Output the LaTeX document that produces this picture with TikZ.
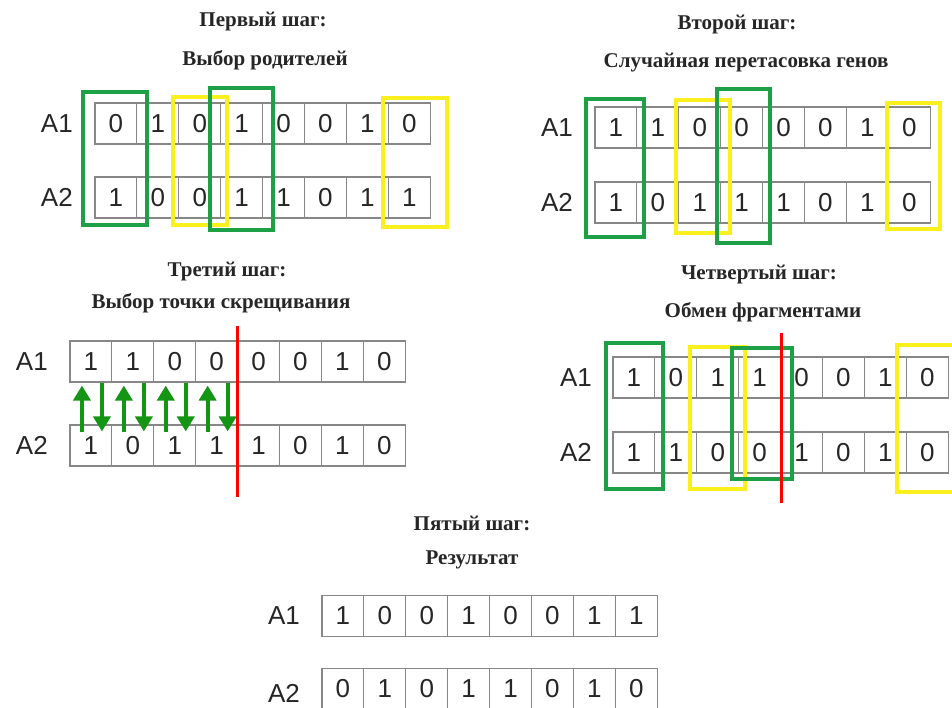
\documentclass[tikz,border=0pt]{standalone}
\usepackage{fontspec}
\setmainfont{Liberation Serif}
\newfontfamily\arialf{Liberation Sans}
\usetikzlibrary{arrows.meta}
\definecolor{gbox}{RGB}{30,160,70}
\definecolor{ybox}{RGB}{250,240,30}
\definecolor{garrow}{RGB}{20,150,20}
\definecolor{cellgray}{RGB}{135,135,135}
\newcommand\bitrow[4]{%
  \foreach \b [count=\i] in {#4}
    \node[cell] (#1-\i) at ({#2+(\i-0.5)*41.9},#3) {\b};}
\tikzset{
  cell/.style={draw=cellgray, line width=1.1pt, minimum width=41.9pt, minimum height=41pt, inner sep=0pt, text=black!85, font=\arialf\fontsize{26}{26}\selectfont},
  lbl/.style={anchor=east, inner sep=0pt, text=black!85, font=\arialf\fontsize{26}{26}\selectfont},
  title/.style={inner sep=0pt, text=black!85, font=\bfseries\fontsize{21}{21}\selectfont},
  gsel/.style={draw=gbox, line width=4.5pt},
  ysel/.style={draw=ybox, line width=4.5pt},
  cut/.style={draw=red, line width=3pt},
  garr/.style={draw=garrow, line width=3.8pt, -{Triangle[width=17pt,length=15pt]}}
}
\begin{document}
\begin{tikzpicture}[x=1pt,y=-1pt]
\useasboundingbox[fill=white] (0,0) rectangle (952,707);

% ---------- Panel 1 ----------
\node[title] (t1a) at (263,22) {Первый шаг:};
\node[title] (t1b) at (265,60) {Выбор родителей};
\bitrow{p1a}{95}{123.5}{0,1,0,1,0,0,1,0}
\bitrow{p1b}{95}{197.5}{1,0,0,1,1,0,1,1}
\node[lbl] (p1la) at (73,123.5) {A1};
\node[lbl] (p1lb) at (73,197.5) {A2};
\draw[ysel] (173,97) rectangle (227,225);
\draw[ysel] (383,98) rectangle (447,227);
\draw[gsel] (83,92) rectangle (147,225);
\draw[gsel] (210,88) rectangle (273,230);

% ---------- Panel 2 ----------
\node[title] (t2a) at (737,25) {Второй шаг:};
\node[title] (t2b) at (746,63) {Случайная перетасовка генов};
\bitrow{p2a}{595}{127.5}{1,1,0,0,0,0,1,0}
\bitrow{p2b}{595}{202.5}{1,0,1,1,1,0,1,0}
\node[lbl] (p2la) at (573,127.5) {A1};
\node[lbl] (p2lb) at (573,202.5) {A2};
\draw[ysel] (676,100) rectangle (730,233);
\draw[ysel] (887,103) rectangle (940,229);
\draw[gsel] (586,99) rectangle (644,237);
\draw[gsel] (717,89) rectangle (770,243);

% ---------- Panel 3 ----------
\node[title] (t3a) at (227,272) {Третий шаг:};
\node[title] (t3b) at (221,303) {Выбор точки скрещивания};
\bitrow{p3a}{70}{361.5}{1,1,0,0,0,0,1,0}
\bitrow{p3b}{70}{445.5}{1,0,1,1,1,0,1,0}
\node[lbl] (p3la) at (48,361.5) {A1};
\node[lbl] (p3lb) at (48,445.5) {A2};
\foreach \i in {1,2,3,4}{
  \draw[garr, shorten <=-8pt, shorten >=3pt] ([xshift=-9pt]p3b-\i.north) -- ([xshift=-9pt]p3a-\i.south);
  \draw[garr, shorten <=0pt, shorten >=-7pt] ([xshift=11pt]p3a-\i.south) -- ([xshift=11pt]p3b-\i.north);
}
\coordinate (c3t) at (237,326);
\coordinate (c3b) at (237,497);
\draw[cut] (c3t) -- (c3b);

% ---------- Panel 4 ----------
\node[title] (t4a) at (759,275) {Четвертый шаг:};
\node[title] (t4b) at (763,312) {Обмен фрагментами};
\bitrow{p4a}{613}{377.5}{1,0,1,1,0,0,1,0}
\bitrow{p4b}{613}{452.5}{1,1,0,0,1,0,1,0}
\node[lbl] (p4la) at (592,377.5) {A1};
\node[lbl] (p4lb) at (592,452.5) {A2};
\draw[ysel] (690,347) rectangle (745,489);
\draw[ysel] (897,345) rectangle (962,492);
\draw[gsel] (606,343) rectangle (663,489);
\draw[gsel] (732,348) rectangle (792,479);
\coordinate (c4t) at (781,333);
\coordinate (c4b) at (781,503);
\draw[cut] (c4t) -- (c4b);

% ---------- Panel 5 ----------
\node[title] (t5a) at (472,523) {Пятый шаг:};
\node[title] (t5b) at (472,560) {Результат};
\bitrow{p5a}{322}{616}{1,0,0,1,0,0,1,1}
\bitrow{p5b}{322}{689}{0,1,0,1,1,0,1,0}
\node[lbl] (p5la) at (300,616) {A1};
\node[lbl] (p5lb) at (300,693) {A2};
\end{tikzpicture}
\end{document}
